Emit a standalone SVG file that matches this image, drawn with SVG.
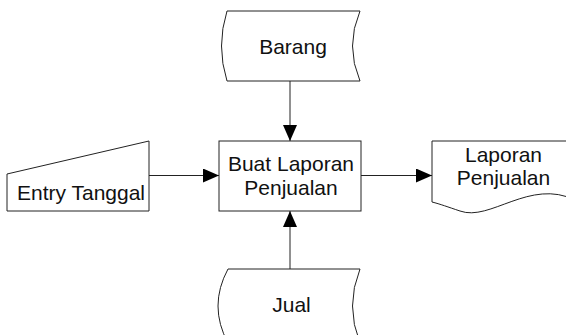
<svg xmlns="http://www.w3.org/2000/svg" width="566" height="335" viewBox="0 0 566 335">
<defs>
<marker id="arr" markerWidth="16" markerHeight="14" refX="16" refY="7" orient="auto" markerUnits="userSpaceOnUse">
<path d="M0,0 L16,7 L0,14 Z" fill="#000"/>
</marker>
<style>
.s{fill:#fff;stroke:#222;stroke-width:1}
.t{font-family:"Liberation Sans",Arial,sans-serif;font-size:21px;fill:#111;text-anchor:middle}
.c{fill:none;stroke:#222;stroke-width:1}
</style>
</defs>
<rect width="566" height="335" fill="#fff"/>
<g id="connectors">
<line class="c" x1="290" y1="81" x2="290" y2="141" marker-end="url(#arr)"/>
<line class="c" x1="149" y1="175.5" x2="219" y2="175.5" marker-end="url(#arr)"/>
<line class="c" x1="361" y1="175.5" x2="432" y2="175.5" marker-end="url(#arr)"/>
<line class="c" x1="290" y1="269" x2="290" y2="211" marker-end="url(#arr)"/>
</g>
<g id="barang">
<path class="s" d="M227,11 L360,11 Q345,46 360,81 L227,81 Q216,46 227,11 Z"/>
<text class="t" x="293" y="54">Barang</text>
</g>
<g id="entry-tanggal">
<path class="s" d="M7,174 L149,141 L149,211 L7,211 Z"/>
<text class="t" x="81" y="200">Entry Tanggal</text>
</g>
<g id="buat-laporan">
<rect class="s" x="219" y="141" width="142" height="70"/>
<text class="t" x="291" y="171">Buat Laporan</text>
<text class="t" x="291" y="194.5">Penjualan</text>
</g>
<g id="laporan-penjualan">
<path class="s" d="M432,141 L575,141 L575,200 C530,178 490,222 460,211 C448,207 440,204 432,202 Z"/>
<text class="t" x="503.5" y="162">Laporan</text>
<text class="t" x="503.5" y="185">Penjualan</text>
</g>
<g id="jual">
<path class="s" d="M228,269 L360,269 Q345,306 360,343 L228,343 Q208,306 228,269 Z"/>
<text class="t" x="291.5" y="312">Jual</text>
</g>
</svg>
